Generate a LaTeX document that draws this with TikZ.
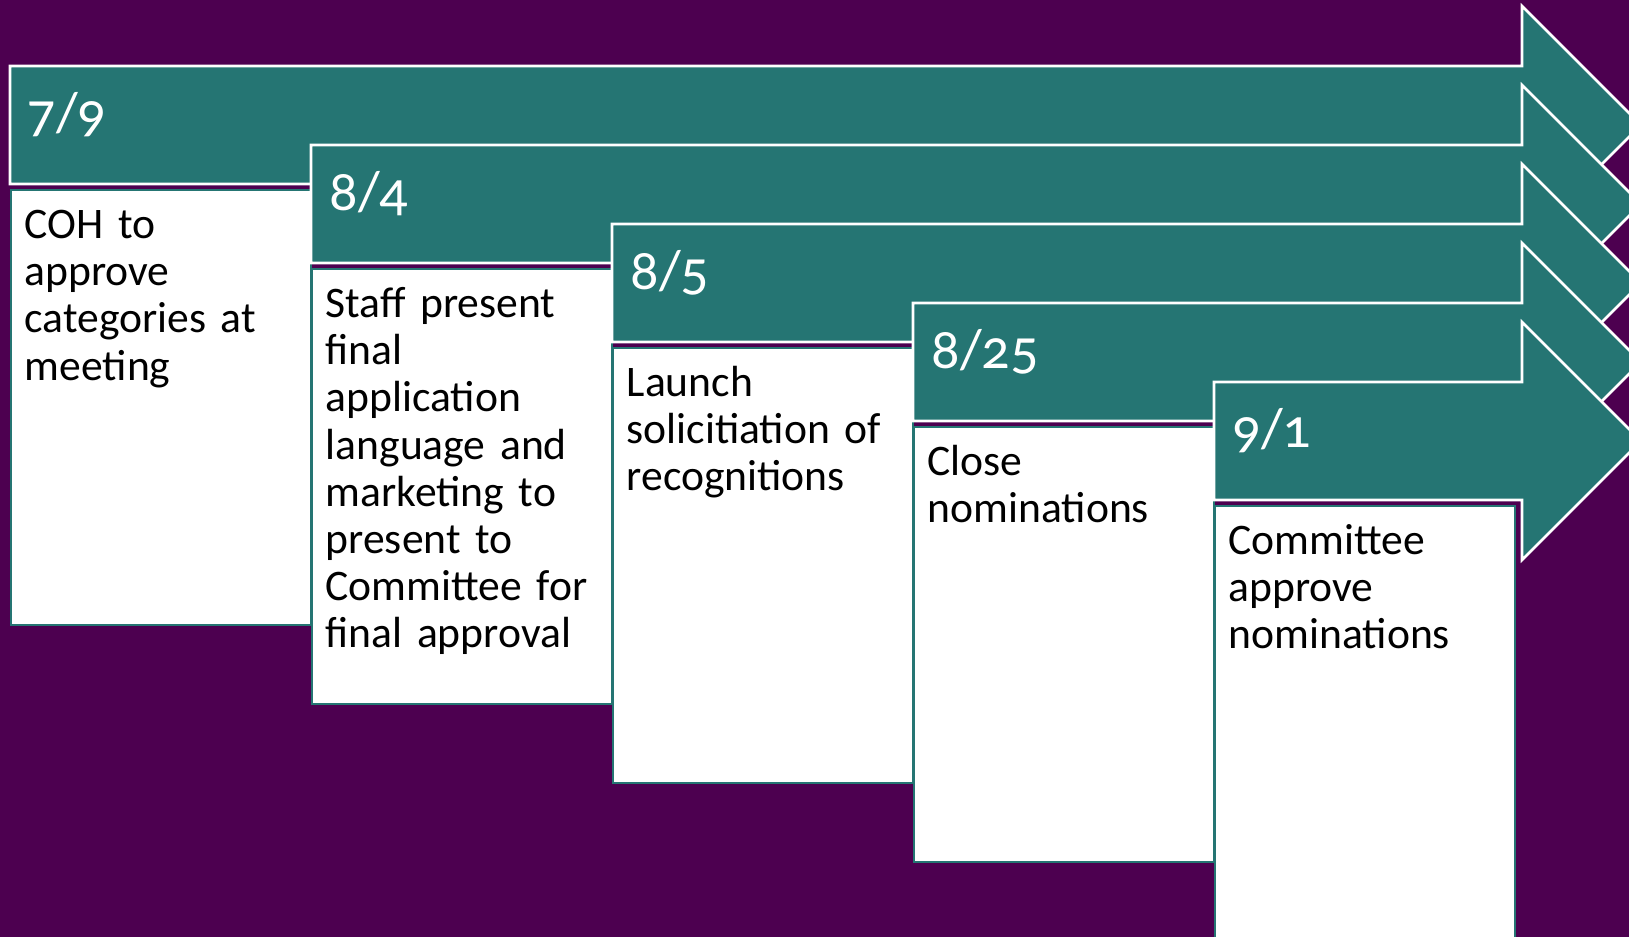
\documentclass[tikz,border=0pt]{standalone}
\usepackage{fontspec}
\setmainfont{Carlito}[Numbers=OldStyle]
\usepackage{tikz}

\definecolor{bgpurple}{RGB}{77,0,80}
\definecolor{hdrteal}{RGB}{37,117,115}

\begin{document}
\begin{tikzpicture}[x=0.01cm, y=-0.01cm,
  stagearrow/.style={fill=hdrteal, draw=white, line width=0.75pt, line join=miter},
  stagebox/.style={fill=white, draw=hdrteal, line width=0.6pt, anchor=north west,
    minimum width=3cm, minimum height=4.35cm, inner sep=0pt, outer sep=0pt},
  datelabel/.style={anchor=base west, inner sep=0pt, text=white, font=\fontsize{16}{19}\selectfont},
  tasklabel/.style={anchor=north west, inner sep=0pt, text width=2.85cm, align=left,
    font=\fontsize{12.4}{13.4}\selectfont}]
  \fill[bgpurple] (0,0) rectangle (1629,937);
  \clip (0,0) rectangle (1629,937);

  % stage 1
  \draw[stagearrow] (10,66) -- (1522,66) -- (1522,6) -- (1641,125) -- (1522,244) -- (1522,184) -- (10,184) -- cycle;
  \node[datelabel] (date1) at (27,132) {7/9};
  \node[stagebox] (box1) at (11,190) {};
  \node[tasklabel] (task1) at ([shift={(13,15)}]box1.north west) {\strut COH to\\ approve\\ categories at\\ meeting};

  % stage 2
  \draw[stagearrow] (311,145) -- (1522,145) -- (1522,85) -- (1641,204) -- (1522,323) -- (1522,263) -- (311,263) -- cycle;
  \node[datelabel] (date2) at (329,211) {8/4};
  \node[stagebox] (box2) at (312,269) {};
  \node[tasklabel] (task2) at ([shift={(13,15)}]box2.north west) {\strut Staff present\\ final\\ application\\ language and\\ marketing to\\ present to\\ Committee for\\ final approval};

  % stage 3
  \draw[stagearrow] (612,224) -- (1522,224) -- (1522,164) -- (1641,283) -- (1522,402) -- (1522,342) -- (612,342) -- cycle;
  \node[datelabel] (date3) at (630,290) {8/5};
  \node[stagebox] (box3) at (613,348) {};
  \node[tasklabel] (task3) at ([shift={(13,15)}]box3.north west) {\strut Launch\\ solicitiation of\\ recognitions};

  % stage 4
  \draw[stagearrow] (913,303) -- (1522,303) -- (1522,243) -- (1641,362) -- (1522,481) -- (1522,421) -- (913,421) -- cycle;
  \node[datelabel] (date4) at (931,369) {8/25};
  \node[stagebox] (box4) at (914,427) {};
  \node[tasklabel] (task4) at ([shift={(13,15)}]box4.north west) {\strut Close\\ nominations};

  % stage 5
  \draw[stagearrow] (1214,382) -- (1522,382) -- (1522,322) -- (1641,441) -- (1522,560) -- (1522,500) -- (1214,500) -- cycle;
  \node[datelabel] (date5) at (1232,448) {9/1};
  \node[stagebox] (box5) at (1215,506) {};
  \node[tasklabel] (task5) at ([shift={(13,15)}]box5.north west) {\strut Committee\\ approve\\ nominations};
\end{tikzpicture}
\end{document}
